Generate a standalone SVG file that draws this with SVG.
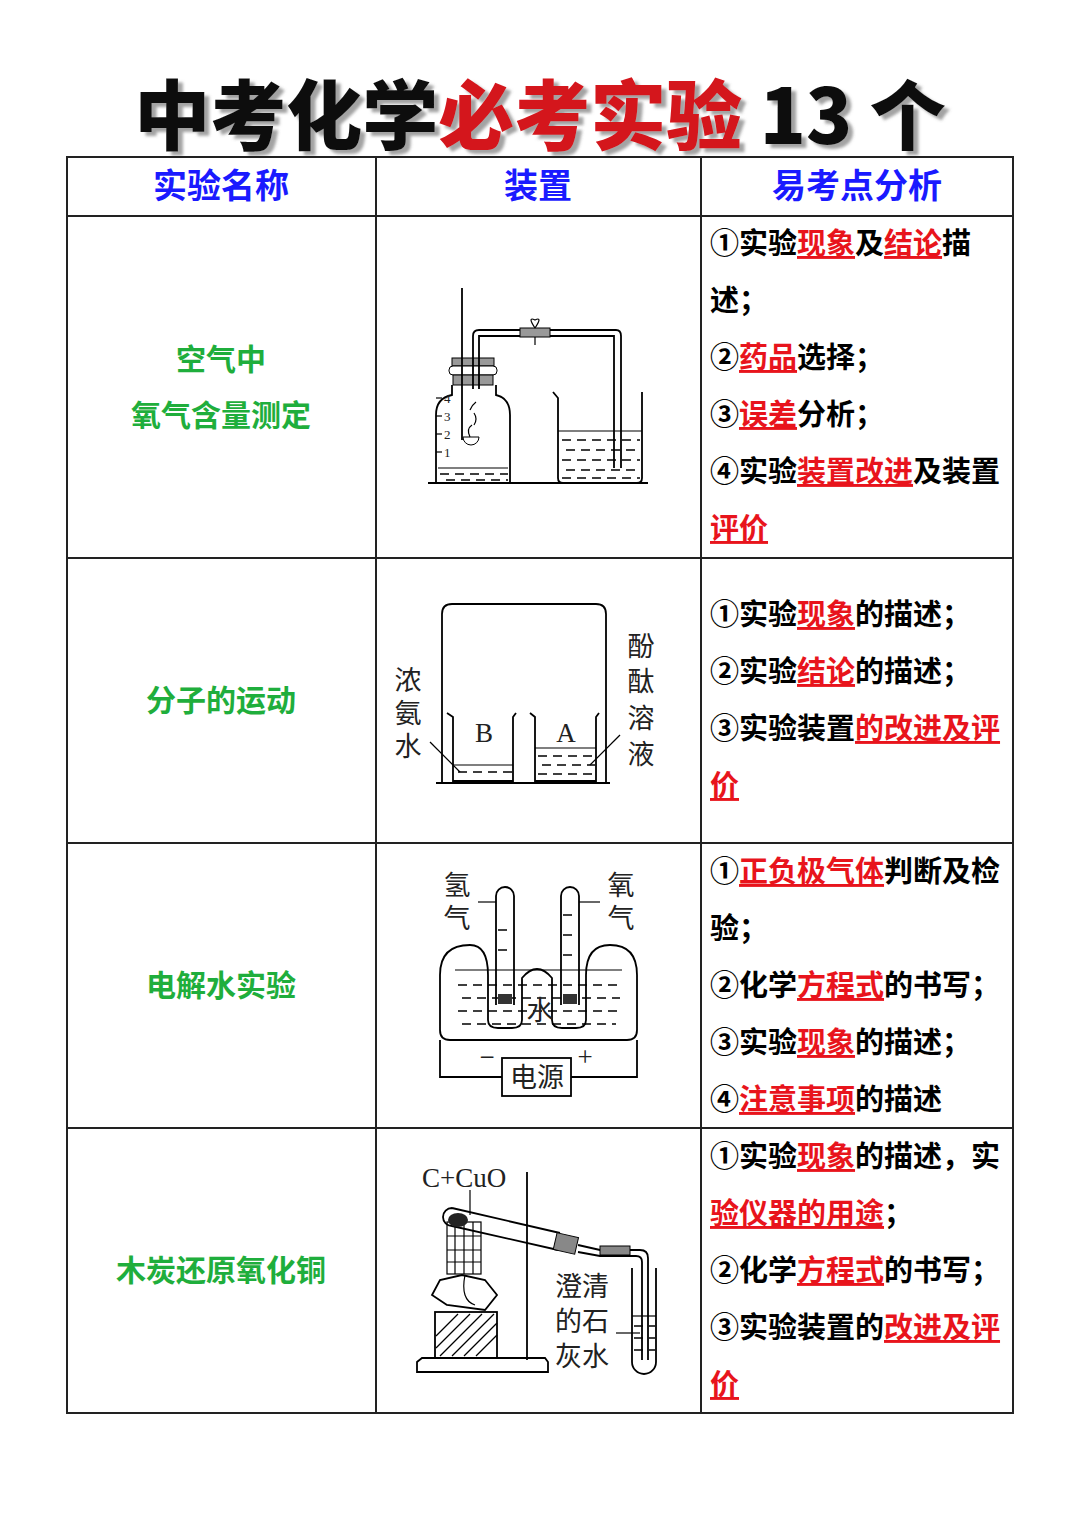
<svg xmlns="http://www.w3.org/2000/svg" width="1080" height="1528" viewBox="0 0 1080 1528">
<defs><filter id="sh" x="-5%" y="-20%" width="110%" height="140%"><feDropShadow dx="5" dy="4" stdDeviation="1.5" flood-color="#666" flood-opacity="0.6"/></filter></defs>
<style>
.g{fill:none;stroke:#000;stroke-width:1.8}
.gl{fill:none;stroke:#000;stroke-width:1.2}
.hd{font-family:"Liberation Serif","Noto Sans CJK SC",serif;font-weight:bold;font-size:34px;fill:#1a1aff;text-anchor:middle}
.nm{font-family:"Noto Sans CJK SC",sans-serif;font-weight:bold;font-size:30px;fill:#1fae3c;text-anchor:middle}
.tx{font-family:"Liberation Serif","Noto Sans CJK SC",serif;font-weight:bold;font-size:29px;fill:#000}
.r{fill:#e8141c;text-decoration:underline}
.lb{font-family:"Liberation Serif","Noto Sans CJK SC",serif;font-size:27px;fill:#222}
.sm{font-family:"Liberation Serif",serif;font-size:13px;fill:#222}
.w{stroke:#000;stroke-width:1.5;stroke-dasharray:9 6}
</style>
<rect width="1080" height="1528" fill="#fff"/>
<g id="title" font-family="Noto Sans CJK SC,sans-serif" font-weight="900" font-size="76" filter="url(#sh)">
<text x="540" y="144" text-anchor="middle"><tspan fill="#111">中考化学</tspan><tspan fill="#d4141c">必考实验</tspan><tspan fill="#111"> 13 个</tspan></text>
</g>
<g id="table" fill="none" stroke="#222" stroke-width="2">
<rect x="67" y="157" width="946" height="1256"/>
<line x1="376" y1="157" x2="376" y2="1413"/><line x1="701" y1="157" x2="701" y2="1413"/>
<line x1="67" y1="216" x2="1013" y2="216"/><line x1="67" y1="558" x2="1013" y2="558"/>
<line x1="67" y1="843" x2="1013" y2="843"/><line x1="67" y1="1128" x2="1013" y2="1128"/>
</g>
<g id="header"><text class="hd" x="221" y="198">实验名称</text><text class="hd" x="538" y="198">装置</text><text class="hd" x="857" y="198">易考点分析</text></g>
<g id="names">
<text class="nm" x="221" y="370">空气中</text><text class="nm" x="221" y="426">氧气含量测定</text>
<text class="nm" x="221" y="711">分子的运动</text>
<text class="nm" x="221" y="996">电解水实验</text>
<text class="nm" x="221" y="1281">木炭还原氧化铜</text>
</g>
<g id="points">
<text class="tx" x="710" y="254">①实验<tspan class="r">现象</tspan>及<tspan class="r">结论</tspan>描</text>
<text class="tx" x="710" y="311">述；</text>
<text class="tx" x="710" y="368">②<tspan class="r">药品</tspan>选择；</text>
<text class="tx" x="710" y="425">③<tspan class="r">误差</tspan>分析；</text>
<text class="tx" x="710" y="482">④实验<tspan class="r">装置改进</tspan>及装置</text>
<text class="tx" x="710" y="539"><tspan class="r">评价</tspan></text>
<text class="tx" x="710" y="625">①实验<tspan class="r">现象</tspan>的描述；</text>
<text class="tx" x="710" y="682">②实验<tspan class="r">结论</tspan>的描述；</text>
<text class="tx" x="710" y="739">③实验装置<tspan class="r">的改进及评</tspan></text>
<text class="tx" x="710" y="796"><tspan class="r">价</tspan></text>
<text class="tx" x="710" y="882">①<tspan class="r">正负极气体</tspan>判断及检</text>
<text class="tx" x="710" y="939">验；</text>
<text class="tx" x="710" y="996">②化学<tspan class="r">方程式</tspan>的书写；</text>
<text class="tx" x="710" y="1053">③实验<tspan class="r">现象</tspan>的描述；</text>
<text class="tx" x="710" y="1110">④<tspan class="r">注意事项</tspan>的描述</text>
<text class="tx" x="710" y="1167">①实验<tspan class="r">现象</tspan>的描述，实</text>
<text class="tx" x="710" y="1224"><tspan class="r">验仪器的用途</tspan>；</text>
<text class="tx" x="710" y="1281">②化学<tspan class="r">方程式</tspan>的书写；</text>
<text class="tx" x="710" y="1338">③实验装置的<tspan class="r">改进及评</tspan></text>
<text class="tx" x="710" y="1395"><tspan class="r">价</tspan></text>
</g>
<g id="app1">
<line class="g" x1="428" y1="483" x2="648" y2="483"/>
<path class="g" d="M452,385 L452,395 Q436,398 436,415 L436,483 M496,385 L496,395 Q510,398 510,415 L510,483"/>
<rect x="452" y="358" width="42" height="8" fill="#999" stroke="#000"/>
<rect x="449" y="366" width="48" height="9" rx="4" fill="#fff" stroke="#000"/>
<rect x="453" y="375" width="40" height="10" fill="#999" stroke="#000"/>
<line class="g" x1="462" y1="288" x2="462" y2="440"/>
<path d="M463,437 h16 a8,8 0 0 1 -16,0z" fill="#fff" stroke="#000"/>
<path class="gl" d="M470,437 q-4,-8 2,-12 M474,425 q4,-6 0,-12 M470,410 q2,-5 6,-8"/>
<path class="g" d="M473,389 L473,336 Q473,330 479,330 L616,330 Q621,330 621,336 L621,468 M479,389 L479,336 L614,336 L614,468"/>
<rect x="520" y="328" width="30" height="9" fill="#999" stroke="#000"/>
<path class="gl" d="M535,328 q-8,-12 0,-8 q8,-4 0,8 M535,337 v8"/>
<line class="gl" x1="438" y1="468" x2="508" y2="468"/>
<line class="w" x1="440" y1="474" x2="508" y2="474"/><line class="w" x1="446" y1="480" x2="508" y2="480"/>
<g class="gl"><line x1="436" y1="398" x2="442" y2="398"/><line x1="436" y1="416" x2="442" y2="416"/><line x1="436" y1="434" x2="442" y2="434"/><line x1="436" y1="452" x2="442" y2="452"/></g>
<text class="sm" x="444" y="403">4</text><text class="sm" x="444" y="421">3</text><text class="sm" x="444" y="439">2</text><text class="sm" x="444" y="457">1</text>
<path class="g" d="M553,392 L558,398 L558,478 Q558,483 563,483 L637,483 Q642,483 642,478 L642,392"/>
<line class="gl" x1="558" y1="431" x2="642" y2="431"/>
<line class="w" x1="562" y1="440" x2="640" y2="440"/><line class="w" x1="566" y1="450" x2="640" y2="450"/><line class="w" x1="562" y1="460" x2="640" y2="460"/><line class="w" x1="566" y1="470" x2="640" y2="470"/><line class="w" x1="562" y1="478" x2="640" y2="478"/>
</g>
<g id="app2">
<path class="g" d="M436,783 L610,783 M442,783 L442,614 Q442,604 452,604 L596,604 Q606,604 606,614 L606,783"/>
<path class="g" d="M447,713 L453,717 L453,781 L513,781 L513,717 L516,713 M530,713 L535,717 L535,781 L596,781 L596,717 L599,713"/>
<line class="gl" x1="453" y1="765" x2="513" y2="765"/><line class="w" x1="458" y1="772" x2="512" y2="772"/>
<line class="gl" x1="535" y1="748" x2="596" y2="748"/><line class="w" x1="538" y1="756" x2="595" y2="756"/><line class="w" x1="542" y1="765" x2="595" y2="765"/><line class="w" x1="538" y1="774" x2="595" y2="774"/>
<text class="lb" x="484" y="742" text-anchor="middle">B</text><text class="lb" x="566" y="742" text-anchor="middle">A</text>
<text class="lb" x="408" y="690" text-anchor="middle">浓</text><text class="lb" x="408" y="723" text-anchor="middle">氨</text><text class="lb" x="408" y="756" text-anchor="middle">水</text>
<text class="lb" x="641" y="656" text-anchor="middle">酚</text><text class="lb" x="641" y="691" text-anchor="middle">酞</text><text class="lb" x="641" y="728" text-anchor="middle">溶</text><text class="lb" x="641" y="764" text-anchor="middle">液</text>
<line class="gl" x1="430" y1="742" x2="460" y2="772"/><line class="gl" x1="620" y1="735" x2="590" y2="765"/>
</g>
<g id="app3">
<path class="g" d="M440,975 Q440,945 470,945 Q488,945 488,975 L488,1020 Q488,1028 498,1028 L512,1028 Q522,1028 522,1020 L522,978 Q537,960 552,978 L552,1020 Q552,1028 562,1028 L576,1028 Q586,1028 586,1020 L586,975 Q586,945 610,945 Q637,945 637,975 L637,1030 Q637,1040 627,1040 L450,1040 Q440,1040 440,1030 Z"/>
<line class="gl" x1="455" y1="970" x2="622" y2="970"/>
<line class="w" x1="458" y1="985" x2="620" y2="985"/><line class="w" x1="462" y1="998" x2="620" y2="998"/><line class="w" x1="458" y1="1011" x2="620" y2="1011"/><line class="w" x1="462" y1="1024" x2="616" y2="1024"/>
<path class="g" d="M496,1005 L496,896 a9,9 0 0 1 18,0 L514,1005 M561,1005 L561,896 a9,9 0 0 1 18,0 L579,1005"/>
<rect x="498" y="994" width="14" height="10" fill="#333"/><rect x="563" y="994" width="14" height="10" fill="#333"/>
<line class="w" x1="498" y1="930" x2="512" y2="930"/><line class="w" x1="498" y1="950" x2="512" y2="950"/><line class="w" x1="563" y1="915" x2="577" y2="915"/><line class="w" x1="563" y1="935" x2="577" y2="935"/><line class="w" x1="563" y1="955" x2="577" y2="955"/>
<text class="lb" x="540" y="1020" text-anchor="middle" fill="#000">水</text>
<text class="lb" x="457" y="895" text-anchor="middle">氢</text><text class="lb" x="457" y="928" text-anchor="middle">气</text>
<text class="lb" x="621" y="895" text-anchor="middle">氧</text><text class="lb" x="621" y="928" text-anchor="middle">气</text>
<line class="gl" x1="478" y1="902" x2="496" y2="902"/><line class="gl" x1="579" y1="902" x2="600" y2="902"/>
<path class="g" d="M440,1040 L440,1077 L502,1077 M571,1077 L637,1077 L637,1040"/>
<rect class="g" x="502" y="1058" width="69" height="38"/>
<text class="lb" x="537" y="1087" text-anchor="middle">电源</text>
<text class="lb" x="487" y="1066" text-anchor="middle">−</text><text class="lb" x="585" y="1066" text-anchor="middle">+</text>
</g>
<g id="app4">
<text class="lb" x="422" y="1187" font-size="26">C+CuO</text>
<line class="g" x1="527" y1="1172" x2="527" y2="1360"/>
<path class="g" d="M417,1372 L417,1362 L422,1358 L545,1358 L548,1362 L548,1372 Z"/>
<rect class="g" x="435" y="1312" width="62" height="46"/>
<g class="gl"><line x1="440" y1="1356" x2="482" y2="1314"/><line x1="452" y1="1356" x2="494" y2="1314"/><line x1="464" y1="1356" x2="497" y2="1323"/><line x1="476" y1="1356" x2="497" y2="1335"/><line x1="436" y1="1348" x2="470" y2="1314"/><line x1="436" y1="1336" x2="458" y2="1314"/></g>
<path class="g" d="M447,1305 L432,1295 L440,1280 L462,1275 L485,1280 L497,1295 L485,1310 Z"/>
<rect class="gl" x="447" y="1222" width="34" height="52"/>
<g class="gl"><line x1="455" y1="1222" x2="455" y2="1274"/><line x1="464" y1="1222" x2="464" y2="1274"/><line x1="473" y1="1222" x2="473" y2="1274"/><line x1="447" y1="1236" x2="481" y2="1236"/><line x1="447" y1="1250" x2="481" y2="1250"/><line x1="447" y1="1262" x2="481" y2="1262"/></g>
<path class="g" d="M452,1208 L560,1233 M452,1226 L558,1250 M452,1208 a9,9 0 0 0 0,18"/>
<ellipse cx="458" cy="1220" rx="10" ry="7" fill="#222"/>
<line class="gl" x1="470" y1="1190" x2="470" y2="1215"/>
<path class="gl" d="M465,1275 Q460,1300 475,1305"/>
<rect x="555" y="1235" width="22" height="17" fill="#888" stroke="#000" transform="rotate(13 566 1243)"/>
<path class="g" d="M578,1245 L600,1250 L640,1250 Q648,1250 648,1258 L648,1360 M578,1252 L600,1256 L636,1256 Q642,1256 642,1262 L642,1360"/>
<rect x="600" y="1246" width="30" height="9" fill="#888" stroke="#000"/>
<path class="g" d="M632,1268 L632,1362 a12,12 0 0 0 24,0 L656,1268"/>
<line class="gl" x1="632" y1="1316" x2="656" y2="1316"/>
<line class="w" x1="634" y1="1326" x2="655" y2="1326"/><line class="w" x1="634" y1="1338" x2="655" y2="1338"/><line class="w" x1="634" y1="1350" x2="655" y2="1350"/>
<text class="lb" x="555" y="1296" font-size="28">澄清</text><text class="lb" x="555" y="1331" font-size="28">的石</text><text class="lb" x="555" y="1366" font-size="28">灰水</text>
<line class="gl" x1="616" y1="1333" x2="640" y2="1333"/>
</g>
</svg>
